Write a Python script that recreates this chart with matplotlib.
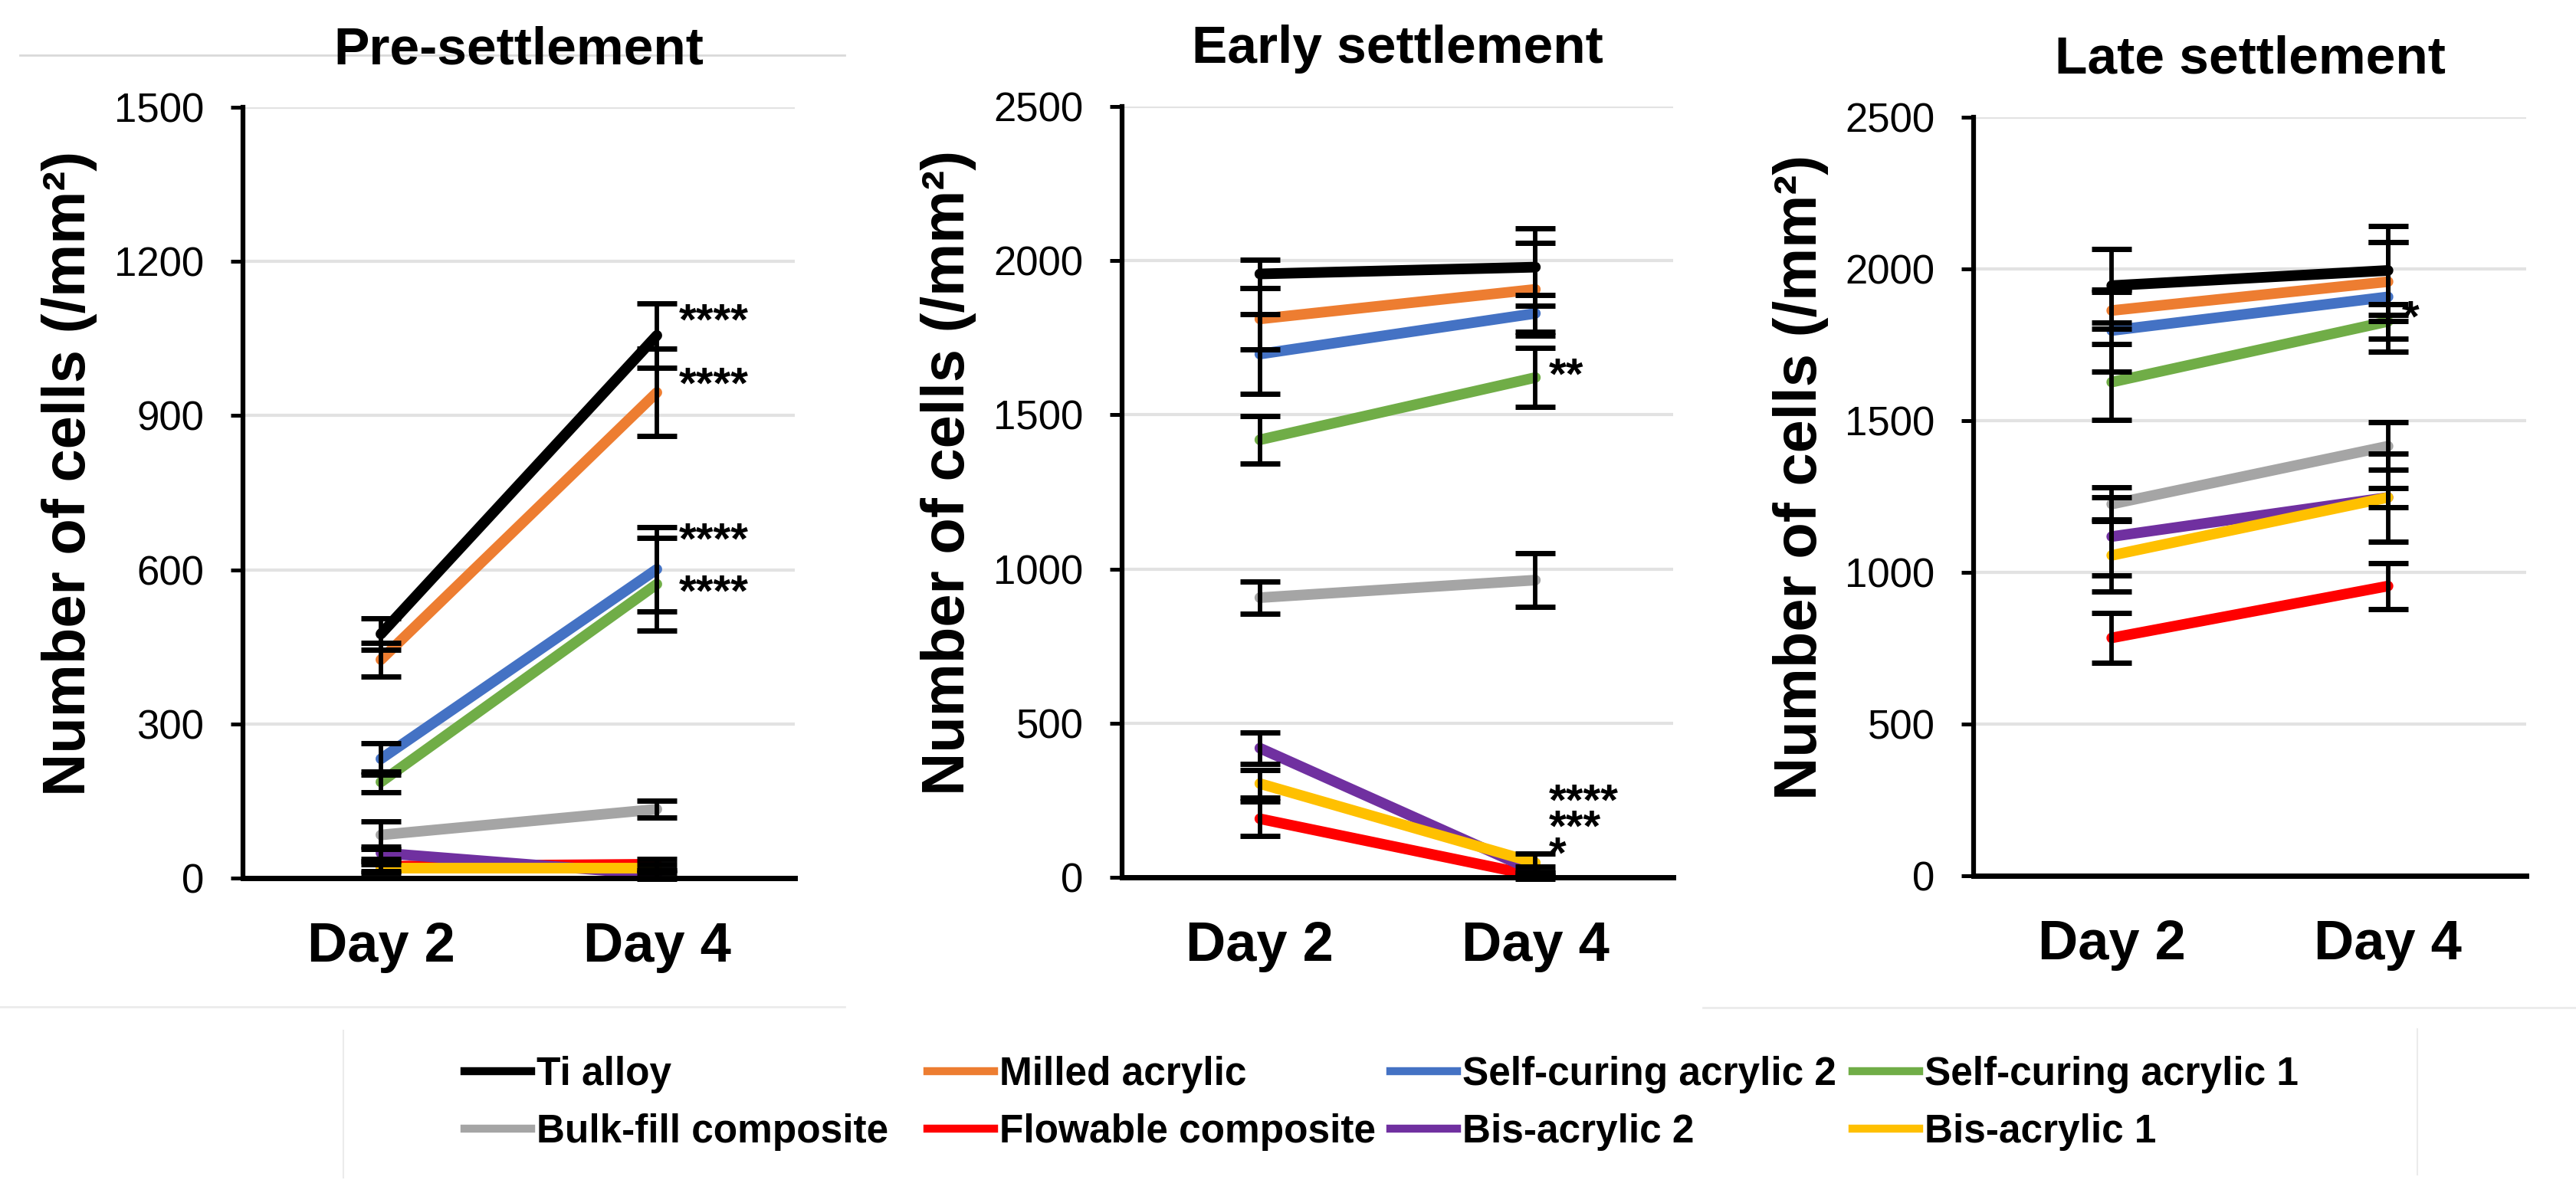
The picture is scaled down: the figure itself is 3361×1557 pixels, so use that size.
import numpy as np
import matplotlib
matplotlib.use('Agg')
import matplotlib.pyplot as plt
from matplotlib.lines import Line2D

plt.rcParams['font.family'] = ['Liberation Sans', 'DejaVu Sans']

days = ['Day 2', 'Day 4']
materials = ['Ti alloy', 'Milled acrylic', 'Self-curing acrylic 2', 'Self-curing acrylic 1',
             'Bulk-fill composite', 'Flowable composite', 'Bis-acrylic 2', 'Bis-acrylic 1']
colors = ['#000000', '#ED7D31', '#4472C4', '#70AD47', '#A5A5A5', '#FF0000', '#7030A0', '#FFC000']

# Pre-settlement (cells / mm2)
pre_day2 = [475, 425, 232, 187, 84, 23, 49, 19]
pre_day4 = [1056, 945, 601, 572, 134, 27, 7, 19]
pre_day2_err = [30, 33, 30, 20, 27, 10, 12, 8]
pre_day4_err = [63, 85, 82, 90, 16, 10, 8, 8]
pre_stars = ['****', '****', '****', '****']
pre_star_y = [1080, 957, 654, 552]

# Early settlement
early_day2 = [1957, 1811, 1697, 1419, 907, 190, 419, 304]
early_day4 = [1979, 1907, 1829, 1621, 964, 5, 19, 47]
early_day2_err = [45, 100, 130, 78, 52, 57, 50, 45]
early_day4_err = [125, 150, 60, 95, 88, 10, 15, 29]
early_stars = ['**', '****', '***', '*']
early_star_y = [1621, 240, 154, 69]

# Late settlement
late_day2 = [1945, 1863, 1797, 1627, 1225, 784, 1118, 1056]
late_day4 = [1995, 1958, 1908, 1827, 1416, 955, 1247, 1247]
late_day2_err = [121, 60, 135, 125, 56, 81, 129, 118]
late_day4_err = [147, 130, 180, 58, 78, 75, 32, 145]
late_stars = ['*']
late_star_y = [1831]

panels = [
    ('Pre-settlement', pre_day2, pre_day4, pre_day2_err, pre_day4_err, pre_stars, pre_star_y, 1500, 300, 21),
    ('Early settlement', early_day2, early_day4, early_day2_err, early_day4_err, early_stars, early_star_y, 2500, 500, 13),
    ('Late settlement', late_day2, late_day4, late_day2_err, late_day4_err, late_stars, late_star_y, 2500, 500, 13),
]

W, H = 3361, 1557
fig = plt.figure(figsize=(W / 100, H / 100), dpi=100)

# axes boxes in pixels: left, right, top, bottom
boxes = [(317, 1037, 140, 1146), (1464, 2183, 139, 1145), (2575, 3296, 153, 1143)]

x = np.arange(len(days))
for (title, d2, d4, e2, e4, stars, star_y, ymax, step, star_dx), (l, r, t, b) in zip(panels, boxes):
    ax = fig.add_axes([l / W, 1 - b / H, (r - l) / W, (b - t) / H])
    for i in range(len(materials)):
        ax.plot(x, [d2[i], d4[i]], color=colors[i], lw=10, zorder=2, clip_on=False,
                solid_capstyle='round')
    for i in range(len(materials)):
        ax.errorbar(x, [d2[i], d4[i]], yerr=[e2[i], e4[i]], fmt='none', ecolor='black',
                    elinewidth=4.2, capsize=19, capthick=5, zorder=3, clip_on=False)
    for s, y in zip(stars, star_y):
        ax.annotate(s, xy=(1, y), xytext=(star_dx, 0), textcoords='offset points',
                    ha='left', va='center', fontsize=42, fontweight='bold')

    ax.set_xlim(-0.5, 1.5)
    ax.set_ylim(0, ymax)
    ax.set_yticks(np.arange(0, ymax + 1, step))
    ax.set_xticks(x, days, fontsize=52, fontweight='bold')
    ax.tick_params(axis='x', length=0, pad=40)
    ax.tick_params(axis='y', length=11.5, width=3.6, pad=25, labelsize=38, direction='out')
    ax.yaxis.grid(True, color='#E2E2E2', lw=3)
    ax.set_axisbelow(True)
    for side in ['top', 'right']:
        ax.spines[side].set_visible(False)
    ax.spines['left'].set_linewidth(4.5)
    ax.spines['bottom'].set_linewidth(5)

    fig.text((l + r) / 2 / W, 1 - (t - 57) / H, title, ha='center', va='baseline',
             fontsize=50, fontweight='bold')
    fig.text((l - 226) / W, 1 - ((t + b) / 2 - 25) / H, 'Number of cells (/mm²)',
             rotation=90, ha='center', va='center', fontsize=56, fontweight='bold')

# legend, one column at a time
legend_cols = [[0, 4], [1, 5], [2, 6], [3, 7]]
col_x = [606, 1210, 1814, 2417]
for idx, cx in zip(legend_cols, col_x):
    handles = [Line2D([], [], color=colors[i], lw=7.5) for i in idx]
    labels = [materials[i] for i in idx]
    fig.legend(handles, labels, loc='center left', bbox_to_anchor=(cx / W, 1 - 1440 / H),
               frameon=False, borderpad=0, borderaxespad=0, handlelength=1.69,
               handletextpad=0.13, labelspacing=0.5,
               prop={'family': ['Liberation Sans', 'DejaVu Sans'], 'weight': 'bold', 'size': 37})

# faint chart-area borders
def hline(x0, x1, y, c='#D9D9D9', lw=2):
    fig.add_artist(Line2D([x0 / W, x1 / W], [1 - y / H, 1 - y / H], color=c, lw=lw,
                          transform=fig.transFigure, zorder=0))

def vline(xp, y0, y1, c='#EBEBEB', lw=1.5):
    fig.add_artist(Line2D([xp / W, xp / W], [1 - y0 / H, 1 - y1 / H], color=c, lw=lw,
                          transform=fig.transFigure, zorder=0))

hline(26, 1102, 72)
hline(0, 1102, 1314, c='#EBEBEB')
hline(2222, W, 1315, c='#EBEBEB')
vline(448, 1345, 1537)
vline(3154, 1343, 1533)

fig.savefig('out.png', dpi=100)
